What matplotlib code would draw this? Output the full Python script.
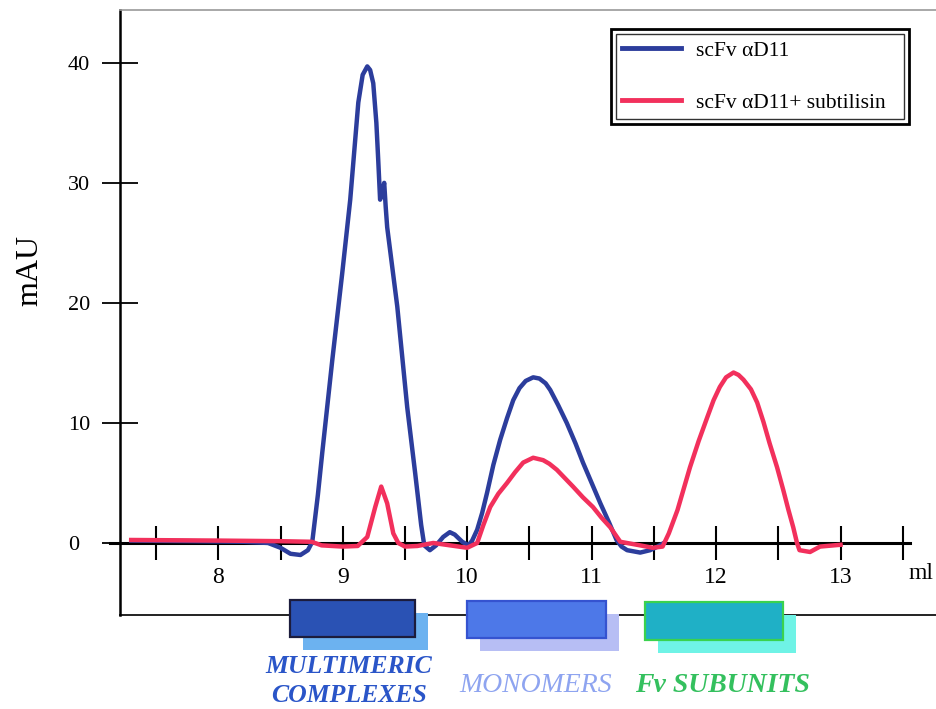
import matplotlib
matplotlib.use("Agg")
import matplotlib.pyplot as plt
from matplotlib.patches import Rectangle
import numpy as np

plt.rcParams['font.family'] = ['Liberation Serif', 'DejaVu Serif']

# elution volume (ml) / absorbance (mAU)
blue_x = [7.30, 7.80, 8.20, 8.40, 8.50, 8.58, 8.66, 8.72, 8.755, 8.80, 8.835, 8.916,
          8.996, 9.06, 9.125, 9.16, 9.197, 9.22, 9.245, 9.27, 9.285, 9.30, 9.31,
          9.333, 9.345, 9.357, 9.438, 9.518, 9.582, 9.63, 9.655, 9.70, 9.75, 9.807,
          9.86, 9.90, 9.96, 10.01, 10.04, 10.08, 10.12, 10.16, 10.21, 10.265, 10.32,
          10.37, 10.42, 10.47, 10.53, 10.58, 10.63, 10.667, 10.73, 10.80, 10.87,
          10.93, 11.00, 11.07, 11.14, 11.20, 11.24, 11.285, 11.39, 11.47, 11.53, 11.58]
blue_y = [0.2, 0.15, 0.1, 0.0, -0.4, -0.9, -1.0, -0.6, 0.1, 4.0, 7.5, 15.25,
          22.5, 28.6, 36.7, 39.0, 39.7, 39.4, 38.3, 35.0, 31.9, 28.6, 29.0,
          30.0, 28.0, 26.3, 19.7, 11.3, 5.8, 1.5, -0.2, -0.6, -0.2, 0.5,
          0.9, 0.7, 0.1, -0.2, 0.2, 1.1, 2.5, 4.2, 6.5, 8.6, 10.4,
          11.9, 12.9, 13.5, 13.8, 13.7, 13.3, 12.75, 11.5, 10.0, 8.3,
          6.7, 5.0, 3.3, 1.7, 0.25, -0.3, -0.6, -0.8, -0.6, -0.3, 0.0]

red_x = [7.30, 8.00, 8.50, 8.75, 8.83, 9.00, 9.12, 9.197, 9.261, 9.309, 9.357, 9.406,
         9.446, 9.50, 9.60, 9.727, 9.863, 10.00, 10.08, 10.13, 10.185, 10.25, 10.32,
         10.385, 10.45, 10.53, 10.61, 10.66, 10.72, 10.785, 10.85, 10.93, 11.01,
         11.08, 11.15, 11.23, 11.39, 11.49, 11.57, 11.62, 11.69, 11.79, 11.86, 11.93,
         11.98, 12.03, 12.08, 12.14, 12.18, 12.22, 12.28, 12.33, 12.38, 12.43, 12.49,
         12.54, 12.58, 12.62, 12.65, 12.67, 12.755, 12.835, 13.00]
red_y = [0.25, 0.2, 0.15, 0.1, -0.2, -0.3, -0.25, 0.5, 3.0, 4.7, 3.3, 0.8,
         0.0, -0.3, -0.25, 0.0, -0.2, -0.4, 0.0, 1.5, 3.0, 4.1, 5.0,
         5.9, 6.7, 7.1, 6.9, 6.6, 6.1, 5.4, 4.7, 3.8, 3.0,
         2.1, 1.3, 0.1, -0.2, -0.4, -0.3, 0.8, 2.75, 6.3, 8.5, 10.5,
         11.9, 13.0, 13.8, 14.2, 14.0, 13.6, 12.8, 11.7, 10.1, 8.3, 6.3,
         4.4, 2.8, 1.3, 0.0, -0.6, -0.75, -0.3, -0.15]

series_labels = [u"scFv \u03b1D11", u"scFv \u03b1D11+ subtilisin"]
fraction_labels = ["MULTIMERIC\nCOMPLEXES", "MONOMERS", "Fv SUBUNITS"]

W, H = 937, 709
fig = plt.figure(figsize=(W / 100, H / 100), dpi=100)
ax = fig.add_axes([120 / W, 1 - 615 / H, 1 - 120 / W, (615 - 10) / H])

ax.plot(blue_x, blue_y, color="#2c3d9c", lw=3.2, label=series_labels[0], zorder=3,
        solid_joinstyle='round')
ax.plot(red_x, red_y, color="#f2305c", lw=3.2, label=series_labels[1], zorder=4,
        solid_joinstyle='round')

ax.set_xlim(7.21, 13.775)
ax.set_ylim(-6.0, 44.4)

# x axis sits at zero, frame bottom drawn separately
ax.spines['bottom'].set_position(('data', 0))
ax.spines['bottom'].set_bounds(7.13, 13.56)
ax.spines['bottom'].set_linewidth(2.2)
ax.spines['bottom'].set_zorder(2)
ax.spines['right'].set_visible(False)
ax.spines['top'].set_color("#9a9a9a")
ax.spines['top'].set_linewidth(1.2)
ax.spines['left'].set_linewidth(1.8)
ax.plot([0, 1], [0, 0], transform=ax.transAxes, color="#222222", lw=1.4,
        clip_on=False, zorder=1)

ax.set_xticks([8, 9, 10, 11, 12, 13])
ax.set_xticks(np.arange(7.5, 13.6, 0.5), minor=True)
ax.tick_params(axis='x', which='both', direction='inout', length=24, width=1.5,
               labelsize=17, pad=5)
ax.tick_params(axis='x', which='minor', labelbottom=False)

ax.set_yticks([0, 10, 20, 30, 40])
ax.tick_params(axis='y', direction='inout', length=26, width=1.3, labelsize=16, pad=24.5)
for lbl in ax.get_yticklabels():
    lbl.set_horizontalalignment('left')

ax.set_ylabel("mAU", fontsize=23, va='center')
ax.yaxis.set_label_coords(-0.110, 0.570)
ax.set_xlabel("ml", fontsize=17, va='center')
ax.xaxis.set_label_coords(0.981, 0.069)

leg = ax.legend(loc='upper left', bbox_to_anchor=(616 / W, 1 - 119 / H, 288 / W, 85 / H),
                bbox_transform=fig.transFigure, mode='expand', borderaxespad=0,
                fontsize=15.5, handlelength=2.7, handletextpad=0.7, labelspacing=1.5,
                borderpad=0.3, fancybox=False, frameon=True)
leg.get_frame().set_edgecolor("black")
leg.get_frame().set_linewidth(1.0)
for line in leg.get_lines():
    line.set_linewidth(3.5)

fig.canvas.draw()
bb = leg.get_window_extent()
fig.patches.append(Rectangle((bb.x0 - 5, bb.y0 - 5), bb.width + 10, bb.height + 10,
                             transform=None, fill=False, edgecolor="black", lw=2.0))

# fraction boxes below the axis (pixel layout: x0, y0, x1, y1)
boxes = [((290, 600, 415, 637), "#2a52b4", "#1c1c3c", "#6cb2f0"),
         ((467, 601, 606, 638), "#4d78e8", "#3553d0", "#b7bef4"),
         ((645, 602, 783, 640), "#1fb0c6", "#3ad24e", "#6ff3e6")]
for (x0, y0, x1, y1), face, edge, shadow in boxes:
    fig.patches.append(Rectangle((x0 + 13, H - y1 - 13), x1 - x0, y1 - y0,
                                 transform=None, facecolor=shadow, edgecolor='none',
                                 zorder=5))
    fig.patches.append(Rectangle((x0, H - y1), x1 - x0, y1 - y0, transform=None,
                                 facecolor=face, edgecolor=edge, lw=1.6, zorder=6))

fig.text(349 / W, 1 - 681 / H, fraction_labels[0], ha='center', va='center',
         fontsize=18.5, fontweight='bold', fontstyle='italic', color="#2a55c8",
         linespacing=1.35)
fig.text(536 / W, 1 - 685 / H, fraction_labels[1], ha='center', va='center',
         fontsize=20, fontstyle='italic', color="#8ea4f0")
fig.text(722 / W, 1 - 685 / H, fraction_labels[2], ha='center', va='center',
         fontsize=20, fontweight='bold', fontstyle='italic', color="#34c05e")

fig.savefig("out.png", dpi=100)
